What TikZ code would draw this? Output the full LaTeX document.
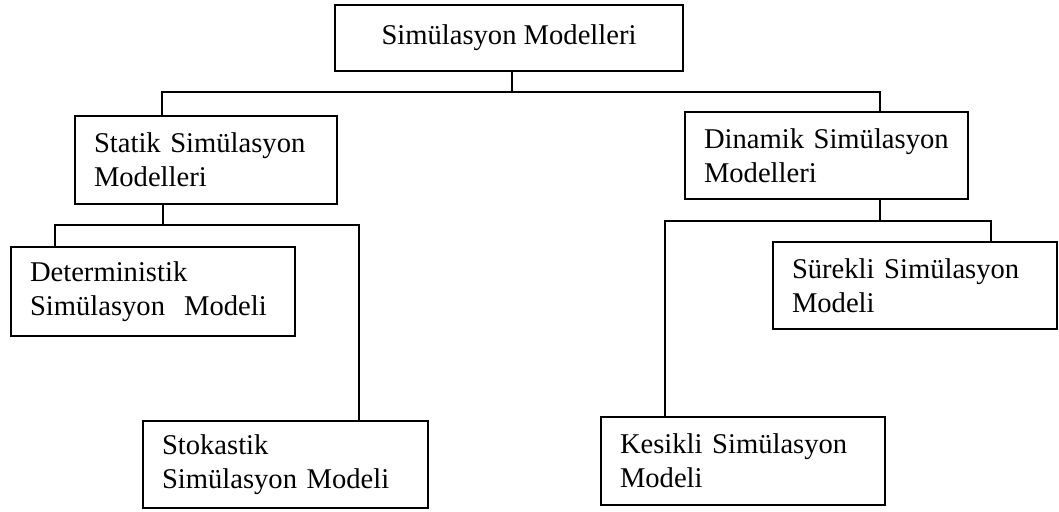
\documentclass[tikz,border=0pt]{standalone}
\usepackage{fontspec}
\setmainfont{Liberation Serif}
\begin{document}
\begin{tikzpicture}[x=1pt,y=-1pt,
  line width=1.8pt,
  modelbox/.style={draw, rectangle, inner xsep=19pt, inner ysep=0pt,
    align=left, font=\fontsize{28.6pt}{34pt}\selectfont},
  rootbox/.style={draw, rectangle, inner sep=0pt,
    font=\fontsize{28.6pt}{34pt}\selectfont}]
\useasboundingbox (0,0) rectangle (1059,511);

% boxes
\node[rootbox, minimum width=348pt, minimum height=66pt] (root) at (509,38) {Simülasyon Modelleri};
\node[modelbox, minimum width=262pt, minimum height=88pt, text width=224pt] (statik) at (206,160)
  {Statik Simülasyon\\Modelleri};
\node[modelbox, minimum width=283pt, minimum height=87pt, text width=245pt] (dinamik) at (826.5,155.5)
  {Dinamik Simülasyon\\Modelleri};
\node[modelbox, minimum width=284pt, minimum height=89pt, text width=246pt] (determ) at (153,291.5)
  {Deterministik\\Simülasyon\ \ Modeli};
\node[modelbox, minimum width=285pt, minimum height=87pt, text width=247pt] (stok) at (285.5,464.5)
  {Stokastik\\Simülasyon Modeli};
\node[modelbox, minimum width=284pt, minimum height=87pt, text width=246pt] (surekli) at (915,285.5)
  {Sürekli Simülasyon\\Modeli};
\node[modelbox, minimum width=284pt, minimum height=88pt, text width=246pt] (kesikli) at (743,461)
  {Kesikli Simülasyon\\Modeli};

% junction points of the tree
\coordinate (j0) at (512,92);
\coordinate (xs) at (162,0);
\coordinate (xd) at (880,0);
\coordinate (j1) at (163,225);
\coordinate (j2) at (880,221);
\coordinate (xdet) at (55,0);
\coordinate (xsto) at (359,0);
\coordinate (xkes) at (665,0);
\coordinate (xsur) at (991,0);

% connectors
\draw (root.south -| j0) -- (j0);
\draw (statik.north -| xs) |- (j0) -| (dinamik.north -| xd);
\draw (statik.south -| j1) -- (j1);
\draw (determ.north -| xdet) |- (j1) -| (stok.north -| xsto);
\draw (dinamik.south -| j2) -- (j2);
\draw (kesikli.north -| xkes) |- (j2) -| (surekli.north -| xsur);
\end{tikzpicture}
\end{document}
